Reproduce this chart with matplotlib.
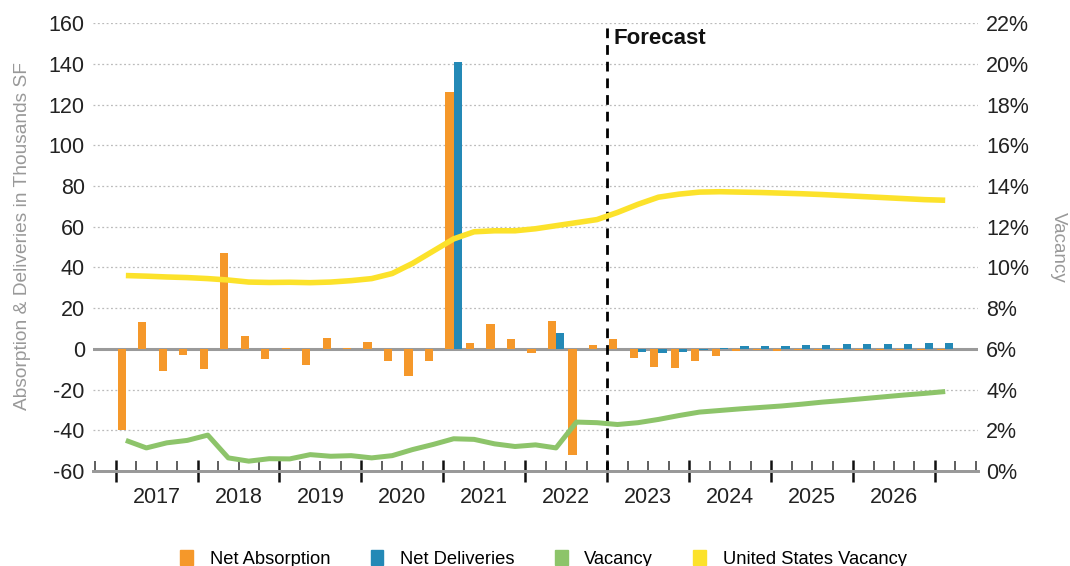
import numpy as np
import pandas as pd
import matplotlib
matplotlib.use("Agg")
import matplotlib.pyplot as plt
from matplotlib.patches import Patch
from matplotlib.ticker import FixedLocator

plt.rcParams['font.family'] = ['Liberation Sans', 'DejaVu Sans']
plt.rcParams['axes.unicode_minus'] = False

# quarterly series, 2017 Q1 .. 2027 Q1
quarters = pd.period_range('2017Q1', '2027Q1', freq='Q')

net_absorption = [-40, 13, -11, -3, -10, 47, 6.5, -5, 0.5, -8,
                  5.5, 0.3, 3.5, -6, -13.5, -6, 126, 3, 12, 5,
                  -2, 13.5, -52, 2, 4.8, -4.4, -9, -9.6, -6, -3.3,
                  -1, -0.5, -1.2, -0.6, -0.8, -0.7, -0.6, -0.6, -0.7, -0.6,
                  -0.8]
net_deliveries = [0, 0, 0, 0, 0, 0, 0, 0, 0, 0,
                  0, 0, 0, 0, 0, 0, 141, 0, 0, 0,
                  0, 8, 0, 0, 0, -1.8, -2, -1.6, -0.5, 0.5,
                  1.2, 1.5, 1.6, 2, 2, 2.3, 2.6, 2.6, 2.6, 2.8,
                  2.8]
vacancy = [1.5, 1.13, 1.38, 1.5, 1.76, 0.64, 0.48, 0.6, 0.59, 0.8,
           0.72, 0.75, 0.64, 0.75, 1.05, 1.3, 1.58, 1.55, 1.33, 1.2,
           1.28, 1.13, 2.4, 2.37, 2.28, 2.37, 2.53, 2.72, 2.89, 2.97,
           3.05, 3.12, 3.19, 3.28, 3.38, 3.46, 3.55, 3.64, 3.73, 3.81,
           3.9]
us_vacancy = [9.6, 9.57, 9.53, 9.5, 9.45, 9.38, 9.28, 9.26, 9.27, 9.25,
              9.28, 9.35, 9.45, 9.7, 10.2, 10.8, 11.4, 11.75, 11.8, 11.8,
              11.9, 12.05, 12.2, 12.35, 12.7, 13.1, 13.45, 13.6, 13.7, 13.72,
              13.7, 13.68, 13.65, 13.62, 13.58, 13.53, 13.48, 13.43, 13.38, 13.33,
              13.3]

years = [str(y) for y in range(2017, 2027)]
left_ticks = list(range(-60, 161, 20))
right_ticks = list(range(0, 23, 2))
forecast_start = '2023Q1'

c_abs = '#F5982A'
c_del = '#2489B6'
c_vac = '#8DC46A'
c_us = '#FCE22B'

x = np.arange(len(quarters))
fc = quarters.get_loc(pd.Period(forecast_start, freq='Q')) - 0.5

fig = plt.figure(figsize=(10.7, 5.66), dpi=100)
ax = fig.add_axes([0.087, 0.168, 0.827, 0.791])
ax2 = ax.twinx()

# bars
w = 0.4
ax.bar(x - w / 2, net_absorption, width=w, color=c_abs, zorder=3)
ax.bar(x + w / 2, net_deliveries, width=w, color=c_del, zorder=3)

# vacancy lines on the right axis
ax2.plot(x, vacancy, color=c_vac, lw=3.6, solid_capstyle='butt', zorder=4)
ax2.plot(x, us_vacancy, color=c_us, lw=4, solid_capstyle='butt', zorder=4)

ax.set_xlim(-1.6, 41.6)
ax.set_ylim(-60, 160)
ax2.set_ylim(0, 22)

# grid and zero line
for t in left_ticks[1:]:
    ax.axhline(t, color='#bbbbbb', lw=0.9, ls=(0, (1.5, 2)), zorder=1)
ax.axhline(0, color='#9a9a9a', lw=2.2, zorder=2)

# forecast marker
ax.axvline(fc, color='black', lw=2, ls=(0, (3.5, 2.5)), zorder=5)
ax.text(fc + 0.3, 0.965, 'Forecast', transform=ax.get_xaxis_transform(),
        fontsize=16, fontweight='bold', ha='left', va='center', color='#111111')

# x axis: year boundaries as major ticks, quarters as minor
ax.xaxis.set_major_locator(FixedLocator(np.arange(-0.5, 41, 4)))
ax.xaxis.set_minor_locator(FixedLocator(np.arange(-1.5, 42, 1)))
ax.tick_params(axis='x', which='major', direction='inout', length=16, width=1.8,
               color='#111111', labelbottom=False)
ax.tick_params(axis='x', which='minor', direction='in', length=7, width=1.1,
               color='#333333')
for k, yr in enumerate(years):
    ax.text(4 * k + 1.5, -0.037, yr, transform=ax.get_xaxis_transform(),
            ha='center', va='top', fontsize=15.5, color='#222222')

ax.set_yticks(left_ticks)
ax.tick_params(axis='y', length=0, labelsize=15.5, labelcolor='#222222', pad=6)
ax2.set_yticks(right_ticks)
ax2.set_yticklabels([f'{t}%' for t in right_ticks])
ax2.tick_params(axis='y', length=0, labelsize=15.5, labelcolor='#222222', pad=6)

for a in (ax, ax2):
    for s in ('top', 'left', 'right'):
        a.spines[s].set_visible(False)
    a.spines['bottom'].set_color('#999999')
    a.spines['bottom'].set_linewidth(2)

ax.set_ylabel('Absorption & Deliveries in Thousands SF', fontsize=13.8,
              color='#999999')
ax.yaxis.set_label_coords(-0.07, 0.525)
ax2.set_ylabel('Vacancy', fontsize=13.5, color='#999999', rotation=270)
ax2.yaxis.set_label_coords(1.1, 0.5)

handles = [Patch(color=c_abs), Patch(color=c_del), Patch(color=c_vac), Patch(color=c_us)]
labels = ['Net Absorption', 'Net Deliveries', 'Vacancy', 'United States Vacancy']
fig.legend(handles, labels, loc='lower center', bbox_to_anchor=(0.508, -0.032),
           ncol=4, frameon=False, fontsize=13.2, handlelength=0.7, handleheight=0.9,
           columnspacing=2.2, handletextpad=0.9)

fig.savefig('out.png', dpi=100)
